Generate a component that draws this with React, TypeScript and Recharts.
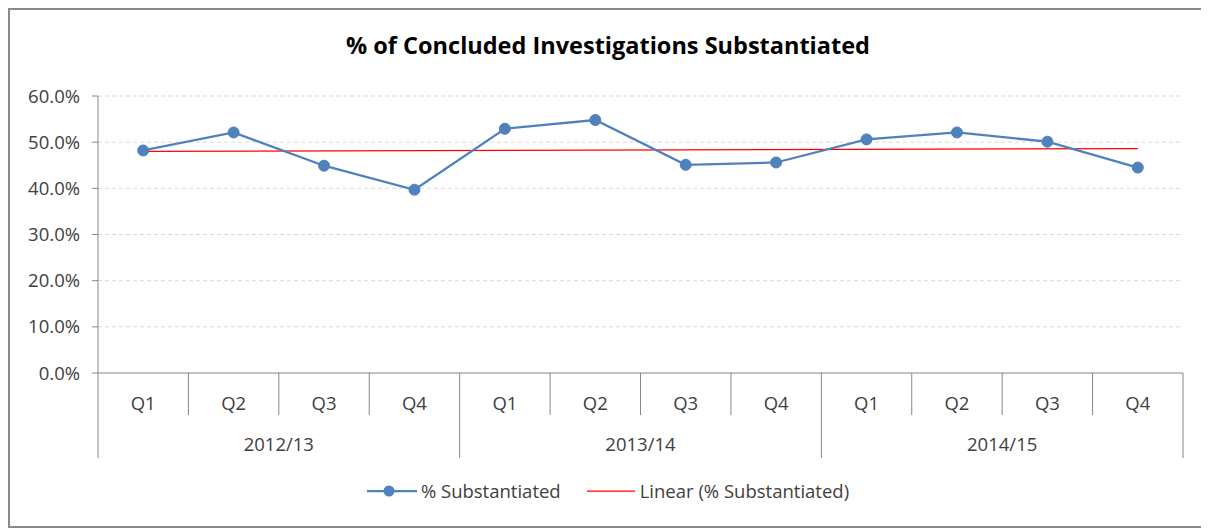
import { CartesianGrid, Legend, Line, LineChart, XAxis, YAxis } from 'recharts';

const years = ['2012/13', '2013/14', '2014/15'];
const quarters = ['Q1', 'Q2', 'Q3', 'Q4'];
const substantiated = [48.2, 52.1, 44.9, 39.7, 52.9, 54.8, 45.1, 45.6, 50.6, 52.1, 50.1, 44.5];
// trend line: only its two ends, joined straight
const trendEnds = [48.0, 48.6];
const yTicks = [0, 10, 20, 30, 40, 50, 60];

const data = substantiated.map((v, i) => ({
  key: `${years[Math.floor(i / 4)]}-${quarters[i % 4]}`,
  year: years[Math.floor(i / 4)],
  quarter: quarters[i % 4],
  pct: v,
  trend: i === 0 ? trendEnds[0] : i === substantiated.length - 1 ? trendEnds[1] : null,
}));

const FONT = '"Open Sans", Lato, sans-serif';
const FS = 18.5;
const W = 1196;
const H = 516;
const PLOT_LEFT = 88;
const PLOT_RIGHT = 1173;
const BW = (PLOT_RIGHT - PLOT_LEFT) / data.length;
const AXIS = '#868686';
const TEXT = '#404040';

function CategoryTick(props: any) {
  const { x, y, index, payload } = props;
  const d = data[index] ?? data.find((r) => r.key === payload.value);
  const q = index % 4;
  const right = x + BW / 2;
  const left = x - BW / 2;
  return (
    <g>
      {index === 0 && <line x1={left} x2={left} y1={y} y2={y + 85} stroke={AXIS} />}
      <line x1={right} x2={right} y1={y} y2={q === 3 ? y + 85 : y + 42} stroke={AXIS} />
      <text x={x} y={y + 29} textAnchor="middle" dominantBaseline="central" fontSize={FS} fill={TEXT} fontFamily={FONT}>
        {d?.quarter}
      </text>
      {q === 1 && (
        <text x={right} y={y + 70} textAnchor="middle" dominantBaseline="central" fontSize={FS} fill={TEXT} fontFamily={FONT}>
          {d?.year}
        </text>
      )}
    </g>
  );
}

function LegendContent() {
  return (
    <div style={{ display: 'flex', justifyContent: 'center', alignItems: 'center', fontFamily: FONT, fontSize: FS, color: TEXT }}>
      <svg width={50} height={14} style={{ marginRight: 4 }}>
        <line x1={0} x2={50} y1={7} y2={7} stroke="#4F81BD" strokeWidth={2.25} />
        <circle cx={22} cy={7} r={5.5} fill="#4F81BD" />
      </svg>
      <span style={{ marginRight: 26 }}>% Substantiated</span>
      <svg width={48} height={14} style={{ marginRight: 5 }}>
        <line x1={0} x2={48} y1={7} y2={7} stroke="#FF0000" strokeWidth={1.25} />
      </svg>
      <span>Linear (% Substantiated)</span>
    </div>
  );
}

export default function App() {
  return (
    <div style={{ width: W, height: H, border: '2px solid #8a8a8a', position: 'relative', background: '#fff' }}>
      <div
        style={{
          position: 'absolute',
          top: 19,
          left: 0,
          width: W,
          textAlign: 'center',
          fontFamily: FONT,
          fontWeight: 700,
          fontSize: 23.5,
          color: '#000',
        }}
      >
        % of Concluded Investigations Substantiated
      </div>
      <LineChart width={W} height={H} data={data} margin={{ top: 86, right: W - PLOT_RIGHT, left: 8, bottom: 68 }}>
        <CartesianGrid vertical={false} stroke="#D9D9D9" strokeDasharray="4 3" horizontalValues={[10, 20, 30, 40, 50, 60]} />
        <XAxis
          dataKey="key"
          scale="band"
          height={85}
          tickSize={0}
          tickMargin={0}
          tickLine={false}
          axisLine={{ stroke: AXIS }}
          interval={0}
          tick={<CategoryTick />}
        />
        <YAxis
          width={80}
          domain={[0, 60]}
          ticks={yTicks}
          tickFormatter={(v: number) => `${v.toFixed(1)}%`}
          axisLine={{ stroke: AXIS }}
          tickLine={{ stroke: AXIS }}
          tickSize={6}
          tickMargin={12}
          tick={{ fontSize: FS, fill: TEXT, fontFamily: FONT }}
        />
        <Legend
          verticalAlign="middle"
          layout="horizontal"
          content={<LegendContent />}
          wrapperStyle={{ top: 468, left: 0, width: W }}
        />
        <Line
          dataKey="trend"
          stroke="#FF0000"
          strokeWidth={1.25}
          dot={false}
          connectNulls
          isAnimationActive={false}
        />
        <Line
          dataKey="pct"
          stroke="#4F81BD"
          strokeWidth={2.25}
          dot={{ r: 5.5, fill: '#4F81BD', stroke: '#4F81BD', strokeWidth: 1 }}
          isAnimationActive={false}
        />
      </LineChart>
    </div>
  );
}
